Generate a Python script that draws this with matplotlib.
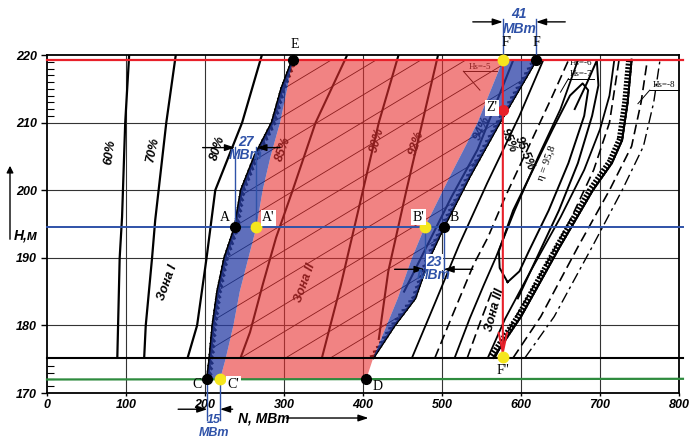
import matplotlib
matplotlib.use("Agg")
import matplotlib.pyplot as plt
import matplotlib.patheffects as pe
from matplotlib.patches import Polygon

# axes
x_ticks = [0, 100, 200, 300, 400, 500, 600, 700, 800]
y_ticks = [170, 180, 190, 200, 210, 220]
y_minor = [171, 172, 173, 174, 211, 212, 213, 214, 215, 216, 217, 218, 219]

# levels (H, m)
h_max = 219.2
h_calc = 194.5
h_min = 172.0
h_low = 175.2

# zone I efficiency lines
eff60_N = [89, 92, 95, 99, 104]
eff60_H = [175.2, 190, 196, 210, 220]
eff70_N = [123, 125, 133, 137, 151, 163]
eff70_H = [175.2, 180, 190, 195.6, 210, 220]
eff80_N = [178, 190, 202, 213, 247, 272]
eff80_H = [175.2, 180, 190, 200, 210, 220]

# zone II efficiency lines
eff85_N = [245, 257, 273, 290, 311, 340, 380]
eff85_H = [175.2, 179, 186, 193, 200, 210, 220]
eff90_N = [348, 372, 400, 420, 445]
eff90_H = [175.2, 186, 200, 210, 220]
eff92_N = [420, 432, 455, 475, 495]
eff92_H = [178, 188, 200, 210, 220]
eff94_N = [452, 482, 512, 545, 590]
eff94_H = [185, 192, 199, 206, 219.2]

# zone boundaries
zone1_N = [203, 206, 210, 216, 225, 238, 246, 263, 285, 297, 311]
zone1_H = [172, 175, 180, 185, 190, 194.5, 200, 205, 210, 215, 219.3]
red_left_N = [219, 226, 236, 244, 255, 265, 273, 283, 295, 304, 311]
red_left_H = [172, 175, 180, 185, 190, 194.5, 200, 205, 210, 215, 219.3]
red_right_N = [404, 413, 444, 462, 478, 512, 545, 577]
red_right_H = [172, 175.2, 184, 190, 194.5, 202.5, 210, 219.2]
blue_right_N = [413, 440, 466, 484, 502, 535, 573, 619]
blue_right_H = [175.2, 180, 184, 190, 194.5, 202, 210, 219.2]

# thin Hs lines in zone II (end points at N=200 and N=640)
thin_H_left = [152, 156, 160, 164, 168, 172, 176, 180, 184, 188, 192, 196, 200, 204, 208, 212]
thin_H_right = [183, 187, 191, 195, 199, 203, 207, 211, 215, 219, 223, 227, 231, 235, 239, 243]

# zone III lines
z3_solid = [
    ([462, 490, 522, 557, 598, 628], [175.2, 183, 192, 201, 211, 219.2]),
    ([516, 535, 553, 568, 592, 622, 650, 672], [175.2, 181, 186, 190, 197, 205, 212, 219.2]),
    ([558, 580, 612, 650, 680, 700, 712, 718], [175.2, 181, 188, 196, 203, 209, 214, 219.2]),
]
z3_dashed = [
    ([491, 515, 540, 558, 580, 612, 640, 660], [175.2, 182, 189, 193, 199, 207, 214, 219.2]),
    ([532, 550, 563], [175.2, 181, 185]),
    ([567, 592, 627, 664, 692, 712, 724], [175.2, 181, 188, 196, 203, 210, 219.2]),
    ([590, 625, 672, 712, 740, 752, 760], [175.2, 181.3, 191.6, 200, 206.5, 213, 219.3]),
]
z3_dashdot = [
    ([605, 642, 690, 728, 755, 768, 776], [175.2, 181.3, 191.6, 200, 206.5, 213, 219.3]),
]
oval_N = [583, 573, 572, 590, 615, 640, 662, 678, 685, 680, 660, 635, 610, 598, 583]
oval_H = [186.4, 188.5, 191, 197, 203, 209, 214, 215.8, 214.8, 211, 204, 197, 191, 188, 186.4]
outer_N = [596, 620, 648, 672, 690, 698, 696, 684, 668]
outer_H = [184, 190, 197, 204, 211, 215.5, 219.2, 216, 212]
cav_N = [565, 600, 649, 691, 715, 728, 735, 740]
cav_H = [175.2, 181.3, 191.6, 200, 204, 207.4, 213, 219.3]

# points
black_pts = {"E": (311, 219.3), "A": (238, 194.5), "B": (502, 194.5),
             "C": (203, 172), "D": (404, 172), "F": (619, 219.2)}
yellow_pts = {"A'": (265, 194.5), "B'": (478, 194.5), "C'": (219, 172),
              "F'": (577, 219.2), "F''": (577, 175.3)}
red_pt = (577, 211.9)

BLUE = "#2f52a8"
RED = "#e8202a"
TXT = dict(family="Liberation Sans", weight="bold", style="italic")

fig = plt.figure(figsize=(6.91, 4.38), dpi=100)
ax = fig.add_axes([47 / 691, 45 / 438, 632 / 691, 338 / 438])
ax.set_xlim(0, 800)
ax.set_ylim(170, 220)

ax.set_xticks(x_ticks)
ax.set_yticks(y_ticks)
ax.set_yticks(y_minor, minor=True)
ax.set_xticklabels([str(v) for v in x_ticks], fontsize=9, **TXT)
ax.set_yticklabels([str(v) for v in y_ticks], fontsize=9, **TXT)
ax.tick_params(axis="both", length=4, width=1, pad=3)
ax.tick_params(axis="x", length=2, pad=2)
ax.tick_params(axis="y", which="minor", direction="in", length=5, width=0.8)
for s in ax.spines.values():
    s.set_linewidth(1.3)
for v in x_ticks[1:-1]:
    ax.axvline(v, color="#333333", lw=0.8, zorder=1)
for v in y_ticks[1:-1]:
    ax.axhline(v, color="#333333", lw=0.8, zorder=1)

# zone I lines
for n, h in [(eff60_N, eff60_H), (eff70_N, eff70_H), (eff80_N, eff80_H)]:
    ax.plot(n, h, color="black", lw=1.6, zorder=2)

# zone II lines
for n, h in [(eff85_N, eff85_H), (eff90_N, eff90_H), (eff92_N, eff92_H), (eff94_N, eff94_H)]:
    ax.plot(n, h, color="black", lw=1.5, zorder=2)

# boundaries with hatch ticks
ax.plot(zone1_N, zone1_H, color="black", lw=2, zorder=2,
        path_effects=[pe.withTickedStroke(angle=-135, spacing=4, length=0.7), pe.Normal()])
ax.plot(blue_right_N, blue_right_H, color="black", lw=1.6, zorder=2,
        path_effects=[pe.withTickedStroke(angle=135, spacing=4, length=0.7), pe.Normal()])

# clip region for thin lines
clip_pts = list(zip(zone1_N[1:], zone1_H[1:])) + list(zip(blue_right_N[::-1], blue_right_H[::-1]))
clip_poly = Polygon(clip_pts, closed=True, facecolor="none", edgecolor="none", transform=ax.transData)
ax.add_patch(clip_poly)
for hl, hr in zip(thin_H_left, thin_H_right):
    ln, = ax.plot([200, 640], [hl, hr], color="black", lw=0.6, zorder=2)
    ln.set_clip_path(clip_poly)

# zone III
for n, h in z3_solid:
    ax.plot(n, h, color="black", lw=1.3, zorder=2)
for n, h in z3_dashed:
    ax.plot(n, h, color="black", lw=1.2, ls=(0, (6, 3)), zorder=2)
for n, h in z3_dashdot:
    ax.plot(n, h, color="black", lw=1.0, ls=(0, (8, 3, 2, 3)), zorder=2)
ax.plot(oval_N, oval_H, color="black", lw=1.4, zorder=2)
ax.plot(outer_N, outer_H, color="black", lw=1.4, zorder=2)
ax.plot(cav_N, cav_H, color="black", lw=1.4, zorder=2,
        path_effects=[pe.withTickedStroke(angle=90, spacing=2.5, length=1.3), pe.Normal()])

# efficiency labels (under overlays)
eff_labels = [("60%", 80, 205.7, 82), ("70%", 134, 206, 78), ("80%", 216, 206.2, 72),
              ("85%", 299, 206, 70), ("90%", 418, 207.4, 74), ("92%", 468, 207, 72),
              ("94%", 551, 209.2, 65), ("95%", 584, 207.4, -68), ("95.5%", 604, 205.5, -68)]
for t, x, y, r in eff_labels:
    ax.text(x, y, t, rotation=r, ha="center", va="center", fontsize=9, zorder=2, **TXT)
ax.text(633, 204, "η = 95,8", rotation=70, ha="center", va="center", fontsize=8,
        family="Liberation Serif", zorder=2)
ax.text(153, 186.3, "Зона I", rotation=70, ha="center", va="center", fontsize=9, zorder=2, **TXT)
ax.text(327, 186.3, "Зона II", rotation=70, ha="center", va="center", fontsize=9, zorder=2, **TXT)
ax.text(567, 182.3, "Зона III", rotation=75, ha="center", va="center", fontsize=9, zorder=2, **TXT)
for t, x, y in [("Hs=-5", 548, 218.2), ("Hs=-6", 676, 218.8), ("Hs=-7", 676, 217.2), ("Hs=-8", 781, 215.5)]:
    ax.text(x, y, t, ha="center", va="center", fontsize=6.5, family="Liberation Serif", zorder=2)
ax.plot([527, 570], [217.6, 217.6], color="black", lw=0.7, zorder=2)
ax.plot([527, 548], [217.6, 214.8], color="black", lw=0.7, zorder=2)
ax.plot([660, 693], [216.5, 216.5], color="black", lw=0.7, zorder=2)
ax.plot([660, 650], [216.5, 214.5], color="black", lw=0.7, zorder=2)
ax.plot([763, 800], [214.8, 214.8], color="black", lw=0.7, zorder=2, clip_on=False)
ax.plot([763, 748], [214.8, 212.8], color="black", lw=0.7, zorder=2)

# overlays
red_poly = list(zip(red_left_N, red_left_H)) + list(zip(red_right_N[::-1], red_right_H[::-1]))
ax.add_patch(Polygon(red_poly, closed=True, facecolor="#e83030", alpha=0.6, edgecolor="none", zorder=3))
blue_l = list(zip(zone1_N, zone1_H)) + list(zip(red_left_N[::-1], red_left_H[::-1]))
ax.add_patch(Polygon(blue_l, closed=True, facecolor="#2a3fa6", alpha=0.75, edgecolor="none", zorder=3))
blue_r = list(zip(red_right_N[1:], red_right_H[1:])) + list(zip(blue_right_N[::-1], blue_right_H[::-1]))
ax.add_patch(Polygon(blue_r, closed=True, facecolor="#2a3fa6", alpha=0.75, edgecolor="none", zorder=3))

# level lines
ax.plot([0, 805], [h_max, h_max], color=RED, lw=1.6, zorder=4, clip_on=False)
ax.plot([0, 805], [h_calc, h_calc], color=BLUE, lw=1.4, zorder=4, clip_on=False)
ax.plot([0, 805], [h_min, h_min + 0.1], color="#2e8b3e", lw=1.6, zorder=4, clip_on=False)
ax.plot([0, 805], [h_low, h_low], color="black", lw=1.5, zorder=4, clip_on=False)

# F' -> F'' arrow
ax.annotate("", xy=yellow_pts["F''"], xytext=yellow_pts["F'"],
            arrowprops=dict(arrowstyle="->,head_length=1.4,head_width=0.3", color=RED, lw=1.5,
                            shrinkA=0, shrinkB=0), zorder=5)

# dimension marks
def dim(n1, n2, h_from, h_to, h_arr, left_tail, right_tail, num, h_num, h_unit, box=False, fs=10):
    ax.plot([n1, n1], [h_from, h_to], color=BLUE, lw=1, zorder=5, clip_on=False)
    ax.plot([n2, n2], [h_from, h_to], color=BLUE, lw=1, zorder=5, clip_on=False)
    ax.annotate("", xy=(n1, h_arr), xytext=(left_tail, h_arr), annotation_clip=False,
                arrowprops=dict(arrowstyle="-|>,head_length=0.6,head_width=0.2", color="black", lw=1, shrinkA=0, shrinkB=0), zorder=6)
    ax.annotate("", xy=(n2, h_arr), xytext=(right_tail, h_arr), annotation_clip=False,
                arrowprops=dict(arrowstyle="-|>,head_length=0.6,head_width=0.2", color="black", lw=1, shrinkA=0, shrinkB=0), zorder=6)
    bb = dict(boxstyle="square,pad=0.05", facecolor="white", edgecolor="none") if box else None
    ax.text((n1 + n2) / 2, h_num, num, color=BLUE, ha="center", va="center", fontsize=fs,
            bbox=bb, zorder=7, clip_on=False, **TXT)
    ax.text((n1 + n2) / 2, h_unit, "МВт", color=BLUE, ha="center", va="center", fontsize=fs,
            zorder=7, clip_on=False, **TXT)

dim(238, 265, 194.5, 206.4, 206.3, 197, 295, "27", 207.2, 205.2)
dim(478, 502, 194.5, 188.2, 188.3, 440, 539, "23", 189.4, 187.5, box=True)
dim(577, 619, 219.2, 225.3, 224.9, 539, 656, "41", 226.0, 223.9)
dim(203, 219, 172, 166.0, 167.6, 166, 235, "15", 166.05, 164.15, fs=9)

# points
for n, h in black_pts.values():
    ax.plot(n, h, "o", color="black", ms=7, zorder=8, clip_on=False)
for n, h in yellow_pts.values():
    ax.plot(n, h, "o", color="#f5e61e", mec="#f5e61e", ms=7.5, zorder=8, clip_on=False)
ax.plot(*red_pt, "o", color="#e8202a", ms=7, zorder=8)

# point labels
pl = [("E", 314, 221.6, False), ("A", 225, 195.9, False), ("A'", 280, 195.9, True),
      ("B'", 470, 196.0, True), ("B", 516, 195.9, False), ("C", 190, 171.3, False),
      ("C'", 236, 171.3, True), ("D", 419, 171.0, False), ("F''", 577, 173.4, False),
      ("F'", 582, 221.8, False), ("F", 620, 221.8, False), ("Z'", 563, 212.2, True)]
for t, x, y, box in pl:
    bb = dict(boxstyle="square,pad=0.1", facecolor="white", edgecolor="none") if box else None
    ax.text(x, y, t, ha="center", va="center", fontsize=10, family="Liberation Serif",
            bbox=bb, zorder=9, clip_on=False)

# axis captions
ax.text(242, 166.3, "N, МВт", ha="left", va="center", fontsize=10, zorder=7, clip_on=False, **TXT)
ax.annotate("", xy=(407, 166.3), xytext=(303, 166.3), annotation_clip=False,
            arrowprops=dict(arrowstyle="-|>,head_length=0.6,head_width=0.2", color="black", lw=1, shrinkA=0, shrinkB=0))
fig.text(26 / 691, 1 - 236 / 438, "H,м", ha="center", va="center", fontsize=10, **TXT)
fig.add_artist(matplotlib.patches.FancyArrowPatch((10 / 691, 1 - 242 / 438), (10 / 691, 1 - 163 / 438),
               transform=fig.transFigure, arrowstyle="-|>,head_length=4,head_width=2", color="black", lw=1))

fig.savefig("out.png", dpi=100)
